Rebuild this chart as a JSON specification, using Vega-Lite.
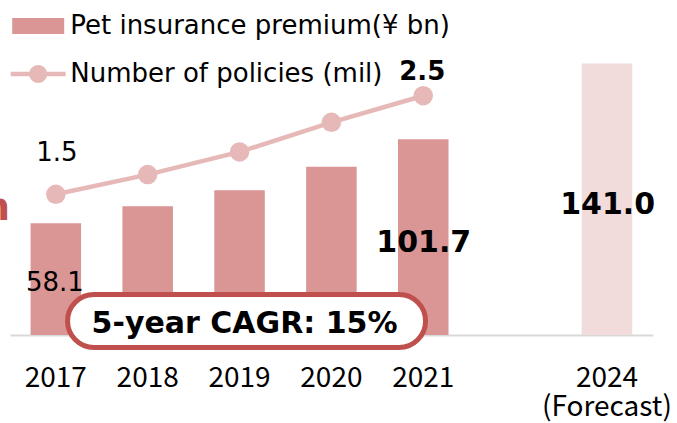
{
  "$schema": "https://vega.github.io/schema/vega-lite/v6.json",
  "width": 643,
  "height": 335,
  "autosize": {"type": "none"},
  "padding": {"left": 9.9, "top": 0, "right": 24.1, "bottom": 88},
  "background": "white",
  "config": {
    "view": {"stroke": null},
    "font": "DejaVu Sans",
    "axisX": {
      "domainColor": "#D9D9D9",
      "domainWidth": 2,
      "ticks": false,
      "grid": false,
      "labelFont": "Noto Sans CJK JP",
      "labelFontSize": 28,
      "labelColor": "#000000",
      "labelPadding": 29,
      "labelLineHeight": 29,
      "labelAngle": 0,
      "labelOverlap": false,
      "labelFlush": false,
      "title": null
    }
  },
  "datasets": {
    "premium": [
      {"year": "2017", "premium": 58.1, "series": "Pet insurance premium(¥ bn)"},
      {"year": "2018", "premium": 66.9, "series": "Pet insurance premium(¥ bn)"},
      {"year": "2019", "premium": 75.2, "series": "Pet insurance premium(¥ bn)"},
      {"year": "2020", "premium": 87.4, "series": "Pet insurance premium(¥ bn)"},
      {"year": "2021", "premium": 101.7, "series": "Pet insurance premium(¥ bn)"},
      {"year": "2024", "premium": 141.0, "series": "Forecast"}
    ],
    "policies": [
      {"year": "2017", "policies": 1.5},
      {"year": "2018", "policies": 1.7},
      {"year": "2019", "policies": 1.93},
      {"year": "2020", "policies": 2.23},
      {"year": "2021", "policies": 2.5}
    ],
    "note": [
      {"year": "2019", "label": "5-year CAGR: 15%"}
    ]
  },
  "layer": [
    {
      "layer": [
        {
          "data": {"name": "premium"},
          "mark": {"type": "bar"},
          "encoding": {
            "x": {
              "field": "year", "type": "nominal",
              "scale": {"type": "band", "domain": ["2017", "2018", "2019", "2020", "2021", "gap", "2024"], "paddingInner": 0.45, "paddingOuter": 0.225},
              "axis": {"labelExpr": "datum.value == '2024' ? ['2024', '(Forecast)'] : (datum.value == 'gap' ? '' : datum.value)"}
            },
            "y": {"field": "premium", "type": "quantitative", "scale": {"domain": [0, 174], "nice": false}, "axis": null},
            "color": {
              "field": "series", "type": "nominal",
              "scale": {"domain": ["Pet insurance premium(¥ bn)", "Number of policies (mil)", "Forecast"], "range": ["#DA9694", "#E6B9B8", "#F2DCDB"]},
              "legend": {
                "orient": "none",
                "legendX": 14.3,
                "legendY": 12,
                "title": null,
                "padding": 0,
                "values": ["Pet insurance premium(¥ bn)", "Number of policies (mil)"],
                "symbolSize": 756,
                "symbolStrokeWidth": 0,
                "labelFont": "DejaVu Sans",
                "labelFontSize": 26,
                "labelColor": "#000000",
                "labelLimit": 600,
                "labelOffset": 18,
                "rowPadding": 21,
                "encode": {
                  "symbols": {
                    "update": {
                      "shape": {"signal": "datum.value == 'Number of policies (mil)' ? 'M-2,-0.16 L2,-0.16 L2,0.16 L-2,0.16 Z M0.655,0 C0.655,0.3617 0.3617,0.655 0,0.655 C-0.3617,0.655 -0.655,0.3617 -0.655,0 C-0.655,-0.3617 -0.3617,-0.655 0,-0.655 C0.3617,-0.655 0.655,-0.3617 0.655,0 Z' : 'M-1.891,-0.582 L1.891,-0.582 L1.891,0.582 L-1.891,0.582 Z'"},
                      "strokeWidth": {"value": 0},
                      "opacity": {"value": 1}
                    }
                  }
                }
              }
            }
          }
        },
        {
          "data": {"name": "note"},
          "mark": {
            "type": "point",
            "shape": "M-1.525,-0.265 L1.525,-0.265 C1.6714,-0.265 1.79,-0.1464 1.79,0 C1.79,0.1464 1.6714,0.265 1.525,0.265 L-1.525,0.265 C-1.6714,0.265 -1.79,0.1464 -1.79,0 C-1.79,-0.1464 -1.6714,-0.265 -1.525,-0.265 Z",
            "size": 40000,
            "filled": true,
            "fill": "#FFFFFF",
            "stroke": "#C0504D",
            "strokeWidth": 5,
            "opacity": 1,
            "fillOpacity": 1,
            "strokeOpacity": 1,
            "xOffset": 7,
            "yOffset": -14
          },
          "encoding": {
            "x": {"field": "year", "type": "nominal"},
            "y": {"datum": 0, "type": "quantitative"}
          }
        },
        {
          "data": {"name": "note"},
          "mark": {"type": "text", "font": "DejaVu Sans", "fontWeight": "bold", "fontSize": 30, "color": "#000000", "align": "center", "baseline": "alphabetic", "dx": 5, "dy": -2},
          "encoding": {
            "x": {"field": "year", "type": "nominal"},
            "y": {"datum": 0, "type": "quantitative"},
            "text": {"field": "label"}
          }
        },
        {
          "data": {"name": "premium"},
          "transform": [{"filter": "datum.year == '2017'"}],
          "mark": {"type": "text", "font": "DejaVu Sans", "fontSize": 26, "color": "#000000", "align": "center", "baseline": "alphabetic", "dx": -1, "dy": 67.4},
          "encoding": {
            "x": {"field": "year", "type": "nominal"},
            "y": {"field": "premium", "type": "quantitative"},
            "text": {"field": "premium", "format": ".1f"}
          }
        },
        {
          "data": {"name": "premium"},
          "transform": [{"filter": "datum.year == '2021'"}],
          "mark": {"type": "text", "font": "DejaVu Sans", "fontWeight": "bold", "fontSize": 30, "color": "#000000", "align": "center", "baseline": "alphabetic", "dx": 0.5, "dy": 112.4},
          "encoding": {
            "x": {"field": "year", "type": "nominal"},
            "y": {"field": "premium", "type": "quantitative"},
            "text": {"field": "premium", "format": ".1f"}
          }
        },
        {
          "data": {"name": "premium"},
          "transform": [{"filter": "datum.year == '2024'"}],
          "mark": {"type": "text", "font": "DejaVu Sans", "fontWeight": "bold", "fontSize": 30, "color": "#000000", "align": "center", "baseline": "alphabetic", "dx": 0.7, "dy": 150.6},
          "encoding": {
            "x": {"field": "year", "type": "nominal"},
            "y": {"field": "premium", "type": "quantitative"},
            "text": {"field": "premium", "format": ".1f"}
          }
        },
        {
          "data": {"name": "premium"},
          "transform": [{"filter": "datum.year == '2017'"}],
          "mark": {"type": "text", "font": "DejaVu Sans", "fontWeight": "bold", "fontSize": 38, "color": "#C0504D", "align": "right", "baseline": "alphabetic", "dx": -45.8, "dy": -3.3},
          "encoding": {
            "x": {"field": "year", "type": "nominal"},
            "y": {"field": "premium", "type": "quantitative"},
            "text": {"value": "n"}
          }
        }
      ]
    },
    {
      "layer": [
        {
          "data": {"name": "policies"},
          "mark": {"type": "line", "color": "#E6B9B8", "strokeWidth": 4.5},
          "encoding": {
            "x": {"field": "year", "type": "nominal"},
            "y": {"field": "policies", "type": "quantitative", "scale": {"domain": [0.073, 3.471], "nice": false, "zero": false}, "axis": null}
          }
        },
        {
          "data": {"name": "policies"},
          "mark": {"type": "point", "filled": true, "color": "#E6B9B8", "size": 380, "opacity": 1},
          "encoding": {
            "x": {"field": "year", "type": "nominal"},
            "y": {"field": "policies", "type": "quantitative"}
          }
        },
        {
          "data": {"name": "policies"},
          "transform": [{"filter": "datum.year == '2017'"}],
          "mark": {"type": "text", "font": "DejaVu Sans", "fontSize": 26, "color": "#000000", "align": "center", "baseline": "alphabetic", "dx": 1, "dy": -33.6},
          "encoding": {
            "x": {"field": "year", "type": "nominal"},
            "y": {"field": "policies", "type": "quantitative"},
            "text": {"field": "policies", "format": ".1f"}
          }
        },
        {
          "data": {"name": "policies"},
          "transform": [{"filter": "datum.year == '2021'"}],
          "mark": {"type": "text", "font": "DejaVu Sans", "fontWeight": "bold", "fontSize": 26, "color": "#000000", "align": "center", "baseline": "alphabetic", "dx": -1, "dy": -15.7},
          "encoding": {
            "x": {"field": "year", "type": "nominal"},
            "y": {"field": "policies", "type": "quantitative"},
            "text": {"field": "policies", "format": ".1f"}
          }
        }
      ]
    }
  ],
  "resolve": {"scale": {"y": "independent"}}
}
